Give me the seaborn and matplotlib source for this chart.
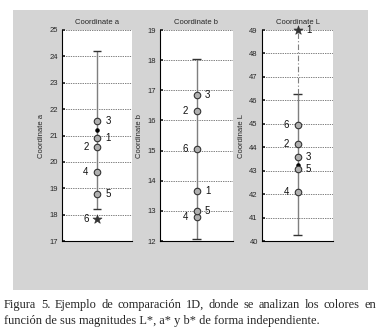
import matplotlib
matplotlib.use("Agg")
import matplotlib.pyplot as plt
import seaborn as sns
import pandas as pd
from matplotlib.patches import Rectangle

# Data
samples = [1, 2, 3, 4, 5, 6]
coord_names = ["Coordinate a", "Coordinate b", "Coordinate L"]
values_a = [20.9, 20.55, 21.55, 19.6, 18.8, 17.85]
values_b = [13.65, 16.3, 16.85, 12.8, 13.0, 15.05]
values_L = [49.0, 44.15, 43.6, 42.1, 43.05, 44.95]
means = [21.2, 15.05, 43.25]
low_limits = [18.2, 12.05, 40.25]
high_limits = [24.2, 18.05, 46.25]
outliers = [6, None, 1]          # sample drawn as a star
y_ranges = [(17, 25), (12, 19), (40, 49)]
caption_line1 = "Figura 5. Ejemplo de comparación 1D, donde se analizan los colores en"
caption_line2 = "función de sus magnitudes L*, a* y b* de forma independiente."

# label side for each sample (1 = right, -1 = left)
label_sides = [
    [1, -1, 1, -1, 1, -1],
    [1, -1, 1, -1, 1, -1],
    [1, -1, 1, -1, 1, -1],
]

sns.set_theme(style="white")
plt.rcParams["font.family"] = ["Liberation Sans", "DejaVu Sans"]

W, H = 380, 334
fig = plt.figure(figsize=(W / 100, H / 100), dpi=100)
fig.patch.set_facecolor("white")
fig.patches.append(Rectangle((13 / W, 1 - 290 / H), 355 / W, 280 / H,
                             transform=fig.transFigure, facecolor="#d4d4d4",
                             edgecolor="none", zorder=-10))

positions = [(62, 70), (160, 73), (262, 71)]
all_values = [values_a, values_b, values_L]

for i, name in enumerate(coord_names):
    left, width = positions[i]
    ax = fig.add_axes([left / W, 1 - 241 / H, width / W, 211 / H])
    ax.set_facecolor("white")
    df = pd.DataFrame({"x": [0.0] * len(samples), "y": all_values[i], "s": samples})
    normal = df[df["s"] != outliers[i]]
    star = df[df["s"] == outliers[i]]

    # range bar
    ax.vlines(0, low_limits[i], high_limits[i], color="#7f7f7f", lw=1.0, zorder=2)
    ax.hlines([low_limits[i], high_limits[i]], -0.12, 0.12, color="#333333", lw=1.0, zorder=2)
    if len(star) and star["y"].iloc[0] > high_limits[i]:
        ax.vlines(0, high_limits[i], star["y"].iloc[0], color="#7f7f7f", lw=0.8,
                  linestyles=(0, (5, 2, 1, 2)), zorder=2)

    # mean marker sits under the sample circles
    ax.scatter([0], [means[i]], marker="o", s=5, color="black", zorder=3)
    sns.scatterplot(data=normal, x="x", y="y", ax=ax, marker="o", s=22,
                    color="#b0b0b0", edgecolor="#333333", linewidth=0.8, zorder=4,
                    clip_on=False)
    if len(star):
        sns.scatterplot(data=star, x="x", y="y", ax=ax, marker="*", s=45,
                        color="#333333", edgecolor="#333333", linewidth=0.5, zorder=4,
                        clip_on=False)

    for s, v in zip(samples, all_values[i]):
        side = label_sides[i][s - 1]
        ax.annotate(str(s), (0, v), xytext=(6 * side, 0), textcoords="offset points",
                    ha="left" if side > 0 else "right", va="center",
                    fontsize=7, color="#111111", zorder=6)

    lo, hi = y_ranges[i]
    ax.set_ylim(lo, hi)
    ax.set_xlim(-1, 1)
    ax.set_yticks(range(lo, hi + 1))
    ax.set_xticks([])
    ax.set_xlabel("")
    ax.set_ylabel(name, fontsize=5.5, labelpad=3)
    ax.set_title(name, fontsize=5.5, pad=4)
    ax.tick_params(axis="y", labelsize=5.5, direction="in", length=2, pad=3, left=True)
    ax.yaxis.grid(True, color="black", linestyle=(0, (1, 1.5)), lw=0.5)
    ax.set_axisbelow(True)
    for sp in ["top", "right"]:
        ax.spines[sp].set_visible(False)
    for sp in ["left", "bottom"]:
        ax.spines[sp].set_color("black")
        ax.spines[sp].set_linewidth(0.8)

# caption: first line justified between x=4 and x=376
cap_size = 8.9
words = caption_line1.split(" ")
renderer = fig.canvas.get_renderer()
texts = []
for w in words:
    t = fig.text(0, 1 - 305 / H, w, family="Liberation Serif", fontsize=cap_size,
                 va="center", ha="left")
    texts.append(t)
widths = [t.get_window_extent(renderer).width for t in texts]
gap = (372 - sum(widths)) / (len(words) - 1)
x = 4.0
for t, wd in zip(texts, widths):
    t.set_x(x / W)
    x += wd + gap
fig.text(4 / W, 1 - 321 / H, caption_line2, family="Liberation Serif", fontsize=cap_size,
         va="center", ha="left")

fig.savefig("out.png", dpi=100)
